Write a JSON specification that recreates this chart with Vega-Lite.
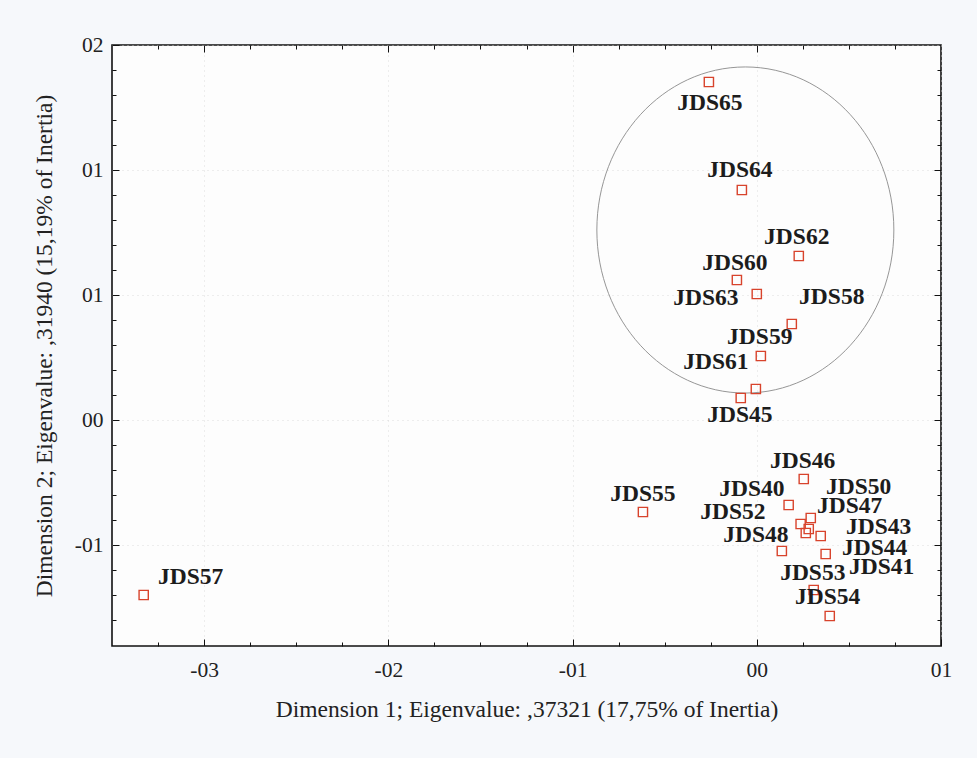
{
  "$schema": "https://vega.github.io/schema/vega-lite/v6.json",
  "autosize": {"type": "none"},
  "padding": {"left": 112, "top": 45, "right": 36, "bottom": 112},
  "width": 829,
  "height": 601,
  "background": "#f6f8fb",
  "config": {
    "view": {"stroke": "#111111", "strokeWidth": 1.6, "fill": "#fdfdfd"},
    "font": "Liberation Serif"
  },
  "datasets": {
    "pts": [
      {"name": "JDS57", "x": -0.3328, "y": -0.0700, "lx": -0.3073, "ly": -0.0628},
      {"name": "JDS55", "x": -0.0618, "y": -0.0368, "lx": -0.0618, "ly": -0.0296},
      {"name": "JDS65", "x": -0.0260, "y": 0.1352, "lx": -0.0255, "ly": 0.1268},
      {"name": "JDS64", "x": -0.0081, "y": 0.0920, "lx": -0.0092, "ly": 0.1000},
      {"name": "JDS62", "x": 0.0228, "y": 0.0656, "lx": 0.0217, "ly": 0.0732},
      {"name": "JDS60", "x": -0.0108, "y": 0.0560, "lx": -0.0119, "ly": 0.0628},
      {"name": "JDS63", "x": 0.0000, "y": 0.0504, "lx": -0.0276, "ly": 0.0488},
      {"name": "JDS58", "x": 0.0190, "y": 0.0384, "lx": 0.0407, "ly": 0.0492},
      {"name": "JDS59", "x": 0.0022, "y": 0.0256, "lx": 0.0016, "ly": 0.0332},
      {"name": "JDS61", "x": -0.0005, "y": 0.0124, "lx": -0.0222, "ly": 0.0232},
      {"name": "JDS45", "x": -0.0087, "y": 0.0088, "lx": -0.0092, "ly": 0.0020},
      {"name": "JDS46", "x": 0.0255, "y": -0.0236, "lx": 0.0249, "ly": -0.0164},
      {"name": "JDS40", "x": 0.0173, "y": -0.0340, "lx": -0.0027, "ly": -0.0276},
      {"name": "JDS50", "x": 0.0293, "y": -0.0392, "lx": 0.0553, "ly": -0.0268},
      {"name": "JDS52", "x": 0.0238, "y": -0.0416, "lx": -0.0130, "ly": -0.0368},
      {"name": "JDS47", "x": 0.0282, "y": -0.0436, "lx": 0.0504, "ly": -0.0344},
      {"name": "JDS41", "x": 0.0266, "y": -0.0452, "lx": 0.0678, "ly": -0.0588},
      {"name": "JDS43", "x": 0.0347, "y": -0.0464, "lx": 0.0661, "ly": -0.0428},
      {"name": "JDS48", "x": 0.0136, "y": -0.0524, "lx": -0.0005, "ly": -0.0460},
      {"name": "JDS44", "x": 0.0374, "y": -0.0536, "lx": 0.0640, "ly": -0.0512},
      {"name": "JDS53", "x": 0.0309, "y": -0.0680, "lx": 0.0304, "ly": -0.0612},
      {"name": "JDS54", "x": 0.0396, "y": -0.0784, "lx": 0.0385, "ly": -0.0708}
    ],
    "ring": [
      {"name": "cluster", "x": -0.0062, "y": 0.076}
    ]
  },
  "resolve": {"axis": {"x": "independent", "y": "independent"}},
  "layer": [
    {
      "data": {"name": "ring"},
      "mark": {
        "type": "point",
        "shape": "M -1 0 A 1 1.098 0 1 1 1 0 A 1 1.098 0 1 1 -1 0 Z",
        "size": 88209,
        "filled": false,
        "stroke": "#8a8a8a",
        "strokeWidth": 0.9,
        "opacity": 1
      },
      "encoding": {
        "x": {
          "field": "x", "type": "quantitative",
          "scale": {"domain": [-0.35, 0.1], "nice": false, "zero": false},
          "axis": {
            "orient": "top", "title": null, "labels": false, "domain": false, "grid": false,
            "values": [-0.325, -0.3, -0.275, -0.25, -0.225, -0.2, -0.175, -0.15, -0.125, -0.1, -0.075, -0.05, -0.025, 0, 0.025, 0.05, 0.075],
            "tickColor": "#111111",
            "tickSize": {"condition": {"test": "abs(datum.value*10 - round(datum.value*10)) < 1e-6", "value": -7}, "value": -4}
          }
        },
        "y": {
          "field": "y", "type": "quantitative",
          "scale": {"domain": [-0.0904, 0.15], "nice": false, "zero": false},
          "axis": {
            "orient": "right", "title": null, "labels": false, "domain": false, "grid": false,
            "values": [-0.08, -0.07, -0.06, -0.05, -0.04, -0.03, -0.02, -0.01, 0, 0.01, 0.02, 0.03, 0.04, 0.05, 0.06, 0.07, 0.08, 0.09, 0.1, 0.11, 0.12, 0.13, 0.14],
            "tickColor": "#111111",
            "tickSize": {"condition": {"test": "abs(datum.value*20 - round(datum.value*20)) < 1e-6", "value": -7}, "value": -4}
          }
        }
      }
    },
    {
      "data": {"name": "pts"},
      "mark": {"type": "point", "shape": "square", "filled": false, "stroke": "#d8432c", "strokeWidth": 1.4, "size": 85, "opacity": 1},
      "encoding": {
        "x": {
          "field": "x", "type": "quantitative",
          "scale": {"domain": [-0.35, 0.1], "nice": false, "zero": false},
          "axis": {
            "orient": "bottom",
            "title": "Dimension 1; Eigenvalue: ,37321 (17,75% of Inertia)",
            "titleFont": "Liberation Serif", "titleFontSize": 23.5, "titleFontWeight": "normal", "titleColor": "#222222", "titlePadding": 14,
            "labelFont": "Liberation Serif", "labelFontSize": 21.5, "labelColor": "#222222", "labelPadding": 20,
            "values": [-0.325, -0.3, -0.275, -0.25, -0.225, -0.2, -0.175, -0.15, -0.125, -0.1, -0.075, -0.05, -0.025, 0, 0.025, 0.05, 0.075, 0.1],
            "labelExpr": "abs(datum.value+0.3)<1e-6 ? '-03' : abs(datum.value+0.2)<1e-6 ? '-02' : abs(datum.value+0.1)<1e-6 ? '-01' : abs(datum.value)<1e-6 ? '00' : abs(datum.value-0.1)<1e-6 ? '01' : ''",
            "labelFlush": false, "labelOverlap": false,
            "domain": false,
            "tickColor": "#111111",
            "tickSize": {"condition": {"test": "abs(datum.value*10 - round(datum.value*10)) < 1e-6", "value": -7}, "value": -4},
            "grid": true, "gridColor": "#d4d4d4", "gridDash": [1, 4], "gridWidth": 0.8,
            "gridOpacity": {"condition": {"test": "abs(datum.value*10 - round(datum.value*10)) < 1e-6", "value": 1}, "value": 0}
          }
        },
        "y": {
          "field": "y", "type": "quantitative",
          "scale": {"domain": [-0.0904, 0.15], "nice": false, "zero": false},
          "axis": {
            "orient": "left",
            "title": "Dimension 2; Eigenvalue: ,31940 (15,19% of Inertia)",
            "titleFont": "Liberation Serif", "titleFontSize": 23.5, "titleFontWeight": "normal", "titleColor": "#222222", "titlePadding": 18,
            "labelFont": "Liberation Serif", "labelFontSize": 21.5, "labelColor": "#222222", "labelPadding": 16,
            "values": [-0.08, -0.07, -0.06, -0.05, -0.04, -0.03, -0.02, -0.01, 0, 0.01, 0.02, 0.03, 0.04, 0.05, 0.06, 0.07, 0.08, 0.09, 0.1, 0.11, 0.12, 0.13, 0.14, 0.15],
            "labelExpr": "abs(datum.value-0.15)<1e-6 ? '02' : abs(datum.value-0.1)<1e-6 ? '01' : abs(datum.value-0.05)<1e-6 ? '01' : abs(datum.value)<1e-6 ? '00' : abs(datum.value+0.05)<1e-6 ? '-01' : ''",
            "labelFlush": false, "labelOverlap": false,
            "domain": false,
            "tickColor": "#111111",
            "tickSize": {"condition": {"test": "abs(datum.value*20 - round(datum.value*20)) < 1e-6", "value": -7}, "value": -4},
            "grid": true, "gridColor": "#d4d4d4", "gridDash": [1, 4], "gridWidth": 0.8,
            "gridOpacity": {"condition": {"test": "abs(datum.value*20 - round(datum.value*20)) < 1e-6", "value": 1}, "value": 0}
          }
        }
      }
    },
    {
      "data": {"name": "pts"},
      "mark": {"type": "text", "font": "Liberation Serif", "fontWeight": "bold", "fontSize": 23.5, "color": "#1c1c1c", "align": "center", "baseline": "middle"},
      "encoding": {
        "x": {"field": "lx", "type": "quantitative", "scale": {"domain": [-0.35, 0.1], "nice": false, "zero": false}, "axis": null},
        "y": {"field": "ly", "type": "quantitative", "scale": {"domain": [-0.0904, 0.15], "nice": false, "zero": false}, "axis": null},
        "text": {"field": "name"}
      }
    }
  ]
}
